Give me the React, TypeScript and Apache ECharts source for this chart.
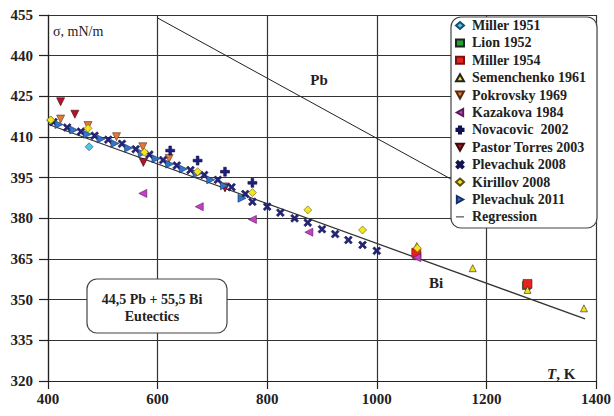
import React, { useEffect, useRef } from "react";
import * as echarts from "echarts";

const xTicks = { min: 400, max: 1400, interval: 200 };
const yTicks = { min: 320, max: 455, interval: 15 };

const miller1951 = [[405, 416.2], [475, 406.4]];
const lion1952 = [[1073, 366.2], [1273, 355.2]];
const miller1954 = [[1072, 367.3], [1275, 355.8]];
const semenchenko1961 = [[1073, 369.8], [1175, 361.6], [1275, 353.6], [1378, 346.8]];
const pokrovsky1969 = [[423, 416.6], [473, 414.2], [525, 410.1], [573, 406.4], [621, 402.1], [723, 391.6]];
const kazakova1984 = [[573, 389.2], [676, 384.3], [773, 379.6], [876, 374.9], [1073, 365.5]];
const novacovic2002 = [[623, 405.0], [673, 401.3], [723, 397.2], [773, 393.1]];
const pastorTorres2003 = [[423, 423.0], [449, 418.4], [574, 400.6], [723, 391.2]];
const plevachuk2008 = [
  [410, 415.5], [435, 413.5], [460, 412.0], [485, 410.5], [510, 409.0], [535, 407.5],
  [560, 405.5], [585, 403.5], [610, 401.5], [635, 399.5], [660, 397.8], [685, 396.0],
  [710, 394.2], [735, 391.5], [760, 389.0], [773, 386.1], [800, 384.3], [824, 382.1],
  [850, 380.0], [874, 378.4], [900, 376.0], [924, 374.2], [948, 372.0], [974, 370.2], [1000, 368.0],
];
const kirillov2008 = [[405, 416.3], [473, 413.2], [576, 404.4], [673, 397.2], [773, 389.5], [874, 383.1], [974, 375.7], [1074, 369.0]];
const plevachuk2011 = [
  [420, 414.6], [447, 412.6], [472, 411.0], [497, 409.3], [522, 407.6], [547, 405.9],
  [572, 404.0], [597, 402.0], [622, 400.0], [647, 398.2], [672, 396.4], [697, 394.2],
  [722, 392.0], [754, 387.4],
];
const regression = [[400, 414.7], [1380, 342.9]];
const pbLine = [[600, 453.9], [1200, 387.3]];

const DOWN = "path://M0,0L10,0L5,9Z";
const LEFT = "path://M9,0L9,10L0,5Z";
const RIGHT = "path://M0,0L9,5L0,10Z";
const PLUS = "path://M3.5,0H6.5V3.5H10V6.5H6.5V10H3.5V6.5H0V3.5H3.5Z";
const CROSS = "path://M0,2L2,0L5,3L8,0L10,2L7,5L10,8L8,10L5,7L2,10L0,8L3,5Z";
const LINEICON = "path://M0,4.4H10V5.6H0Z";

const SERIF = "'Liberation Serif', 'Times New Roman', serif";

export default function App() {
  const ref = useRef<HTMLDivElement>(null);
  useEffect(() => {
    if (!ref.current) return;
    const chart = echarts.init(ref.current, undefined, { renderer: "svg" });
    const sc = (name: string, data: number[][], symbol: string, color: string, size = 7, border = "#222") => ({
      name,
      type: "scatter",
      data,
      symbol,
      symbolSize: size,
      z: 3,
      itemStyle: { color, borderColor: border, borderWidth: 0.6, opacity: 1 },
    });
    const series: any[] = [
      {
        name: "Pb",
        type: "line",
        data: pbLine,
        showSymbol: false,
        symbol: "none",
        z: 2,
        lineStyle: { color: "#222", width: 1 },
        itemStyle: { color: "#222" },
      },
      {
        name: "Regression",
        type: "line",
        data: regression,
        showSymbol: false,
        symbol: "none",
        z: 2,
        lineStyle: { color: "#333", width: 1.3 },
        itemStyle: { color: "#222" },
      },
      sc("Lion 1952", lion1952, "rect", "#1fa52a", 8),
      sc("Miller 1954", miller1954, "rect", "#e3231f", 9, "#7a1010"),
      sc("Semenchenko 1961", semenchenko1961, "triangle", "#f2e21c", 7, "#222"),
      sc("Pokrovsky 1969", pokrovsky1969, DOWN, "#e07a36", 8, "#5a2a10"),
      sc("Kazakova 1984", kazakova1984, LEFT, "#c43fc4", 8, "#5a1a5a"),
      sc("Novacovic  2002", novacovic2002, PLUS, "#1c1f7d", 9, "#10104a"),
      sc("Pastor Torres 2003", pastorTorres2003, DOWN, "#b0142a", 8, "#400808"),
      sc("Plevachuk 2008", plevachuk2008, CROSS, "#23237d", 8, "#14144a"),
      sc("Plevachuk 2011", plevachuk2011, RIGHT, "#2f76c8", 8, "#1a2a60"),
      sc("Miller 1951", miller1951, "diamond", "#4cc8e6", 8, "#1a4a70"),
      sc("Kirillov 2008", kirillov2008, "diamond", "#f5e61a", 8, "#5a5010"),
    ];
    const legendItems = [
      { name: "Miller 1951", icon: "diamond" },
      { name: "Lion 1952", icon: "rect" },
      { name: "Miller 1954", icon: "rect" },
      { name: "Semenchenko 1961", icon: "triangle" },
      { name: "Pokrovsky 1969", icon: DOWN },
      { name: "Kazakova 1984", icon: LEFT },
      { name: "Novacovic  2002", icon: PLUS },
      { name: "Pastor Torres 2003", icon: DOWN },
      { name: "Plevachuk 2008", icon: CROSS },
      { name: "Kirillov 2008", icon: "diamond" },
      { name: "Plevachuk 2011", icon: RIGHT },
      { name: "Regression", icon: LINEICON },
    ];
    chart.setOption({
      animation: false,
      backgroundColor: "#fff",
      grid: { left: 48, right: 15, top: 15, bottom: 35 },
      xAxis: {
        type: "value",
        min: xTicks.min,
        max: xTicks.max,
        interval: xTicks.interval,
        axisLine: { show: true, onZero: false, lineStyle: { color: "#222", width: 1.2 } },
        axisTick: { show: true, inside: false, length: 8, lineStyle: { color: "#222", width: 1.2 } },
        splitLine: { show: true, lineStyle: { color: "#333", width: 1.2 } },
        axisLabel: {
          fontFamily: SERIF, fontWeight: "bold", fontSize: 15, color: "#222", margin: 10,
          formatter: (v: number) => String(v),
        },
      },
      yAxis: {
        type: "value",
        min: yTicks.min,
        max: yTicks.max,
        interval: yTicks.interval,
        axisLine: { show: true, lineStyle: { color: "#222", width: 1.2 } },
        axisTick: { show: true, inside: false, length: 9, lineStyle: { color: "#222", width: 1.2 } },
        splitLine: { show: true, lineStyle: { color: "#333", width: 1.2 } },
        axisLabel: {
          fontFamily: SERIF, fontWeight: "bold", fontSize: 15, color: "#222", margin: 15,
          formatter: (v: number) => String(v),
        },
      },
      legend: {
        orient: "vertical",
        left: 453,
        top: 16,
        z: 200,
        padding: [2, 2, 2, 2],
        itemGap: 2.4,
        itemWidth: 8,
        itemHeight: 7,
        data: legendItems,
        selectedMode: false,
        textStyle: { fontFamily: SERIF, fontWeight: "bold", fontSize: 14, color: "#222", lineHeight: 15, padding: [0, 0, 0, 3] },
      },
      graphic: [
        {
          type: "rect",
          z: 100,
          shape: { x: 451, y: 17, width: 146, height: 211, r: 10 },
          style: { fill: "#fff", stroke: "#444", lineWidth: 1.2 },
        },
        {
          type: "rect",
          z: 100,
          shape: { x: 87, y: 279, width: 140, height: 54, r: 10 },
          style: { fill: "#fff", stroke: "#444", lineWidth: 1.2 },
        },
        {
          type: "text",
          z: 101,
          x: 152,
          y: 299,
          style: {
            text: "44,5 Pb + 55,5 Bi",
            fontFamily: SERIF, fontWeight: "bold", fontSize: 14, fill: "#222",
            align: "center", verticalAlign: "middle",
          },
        },
        {
          type: "text",
          z: 101,
          x: 152,
          y: 316,
          style: {
            text: "Eutectics",
            fontFamily: SERIF, fontWeight: "bold", fontSize: 14, fill: "#222",
            align: "center", verticalAlign: "middle",
          },
        },
        {
          type: "text",
          z: 101,
          x: 53,
          y: 31,
          style: {
            text: "σ, mN/m",
            fontFamily: SERIF, fontSize: 14, fill: "#222",
            align: "left", verticalAlign: "middle",
          },
        },
        {
          type: "text",
          z: 101,
          x: 319,
          y: 80,
          style: {
            text: "Pb",
            fontFamily: SERIF, fontWeight: "bold", fontSize: 15, fill: "#222",
            align: "center", verticalAlign: "middle",
          },
        },
        {
          type: "text",
          z: 101,
          x: 436,
          y: 283,
          style: {
            text: "Bi",
            fontFamily: SERIF, fontWeight: "bold", fontSize: 15, fill: "#222",
            align: "center", verticalAlign: "middle",
          },
        },
        {
          type: "text",
          z: 101,
          x: 547,
          y: 374,
          style: {
            text: "{t|T}{k|, K}",
            verticalAlign: "middle",
            align: "left",
            rich: {
              t: { fontFamily: SERIF, fontWeight: "bold", fontStyle: "italic", fontSize: 15, fill: "#222", color: "#222" },
              k: { fontFamily: SERIF, fontWeight: "bold", fontSize: 15, fill: "#222", color: "#222" },
            },
          },
        },
      ],
      series,
    });
    return () => chart.dispose();
  }, []);
  return <div ref={ref} style={{ position: "fixed", left: 0, top: 0, width: 614, height: 416 }} />;
}
